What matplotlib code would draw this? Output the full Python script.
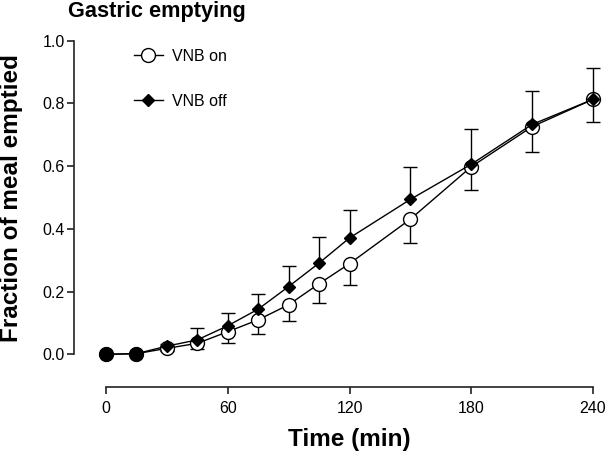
import matplotlib
matplotlib.use("Agg")
import matplotlib.pyplot as plt
from matplotlib.lines import Line2D

plt.rcParams['font.family'] = ['Liberation Sans', 'DejaVu Sans']

# Data
time_min = [0, 15, 30, 45, 60, 75, 90, 105, 120, 150, 180, 210, 240]
vnb_on = [0.0, 0.002, 0.019, 0.035, 0.072, 0.110, 0.158, 0.225, 0.289, 0.431, 0.598, 0.726, 0.813]
vnb_on_err = [0.0, 0.0, 0.008, 0.018, 0.037, 0.046, 0.052, 0.061, 0.067, 0.075, 0.074, 0.080, 0.071]
vnb_off = [0.0, 0.002, 0.026, 0.046, 0.091, 0.144, 0.216, 0.291, 0.371, 0.494, 0.606, 0.733, 0.813]
vnb_off_err = [0.0, 0.0, 0.008, 0.037, 0.040, 0.047, 0.066, 0.083, 0.090, 0.102, 0.112, 0.108, 0.100]
filled_times = [0, 15]
filled_values = [0.0, 0.002]

x_ticks = [0, 60, 120, 180, 240]
y_ticks = [0.0, 0.2, 0.4, 0.6, 0.8, 1.0]
y_ticklabels = ["0.0", "0.2", "0.4", "0.6", "0.8", "1.0"]

W, H = 606, 454
fig = plt.figure(figsize=(W / 100, H / 100), dpi=100)
ax = fig.add_axes([106 / W, 1 - 354.3 / H, 487 / W, 313.6 / H])

lw = 1.0
cap_ms = 9.5

# VNB on: open circles, error bars downward
on_low = [v - e for v, e in zip(vnb_on, vnb_on_err)]
ax.vlines(time_min, on_low, vnb_on, color='black', lw=1.0, zorder=1, clip_on=False)
ax.plot(time_min, on_low, linestyle='none', marker='_', ms=cap_ms, mew=1.0,
        color='black', zorder=1, clip_on=False)
ax.plot(time_min, vnb_on, '-', color='black', lw=lw, marker='o', ms=10, mfc='white',
        mec='black', mew=1.0, clip_on=False, zorder=3)

# VNB off: filled diamonds, error bars upward
off_high = [v + e for v, e in zip(vnb_off, vnb_off_err)]
ax.vlines(time_min, vnb_off, off_high, color='black', lw=1.0, zorder=1, clip_on=False)
ax.plot(time_min, off_high, linestyle='none', marker='_', ms=cap_ms, mew=1.0,
        color='black', zorder=1, clip_on=False)
ax.plot(time_min, vnb_off, '-', color='black', lw=lw, marker='D', ms=6, mfc='black',
        mec='black', mew=1.0, clip_on=False, zorder=4)

ax.plot(filled_times, filled_values, 'o', color='black', ms=9.5, clip_on=False, zorder=6)

ax.set_xlim(0, 240)
ax.set_ylim(0, 1.0)
ax.set_xticks(x_ticks)
ax.set_xticklabels([str(t) for t in x_ticks])
ax.set_yticks(y_ticks)
ax.set_yticklabels(y_ticklabels)

for s in ['top', 'right']:
    ax.spines[s].set_visible(False)
ax.spines['left'].set_position(('outward', 23.3))
ax.spines['bottom'].set_position(('outward', 23.3))
ax.spines['left'].set_bounds(0, 1.0)
ax.spines['bottom'].set_bounds(0, 240)
for s in ['left', 'bottom']:
    ax.spines[s].set_linewidth(1.2)
    ax.spines[s].set_color('#222222')
ax.tick_params(axis='both', direction='out', length=5, width=1.2, color='#222222',
               labelsize=11.5)
ax.tick_params(axis='y', pad=1.5)
ax.tick_params(axis='x', pad=5)

ax.set_xlabel("Time (min)", fontsize=17.5, fontweight='bold', labelpad=9)
fig.text(12 / W, 1 - 198 / H, "Fraction of meal emptied", fontsize=17.5,
         fontweight='bold', rotation=90, ha='center', va='center')
fig.text(68 / W, 1 - 16.5 / H, "Gastric emptying", fontsize=15.7, fontweight='bold',
         ha='left', va='baseline')

handles = [
    Line2D([], [], color='black', lw=1.0, marker='o', ms=10, mfc='white', mec='black', mew=1.0),
    Line2D([], [], color='black', lw=1.0, marker='D', ms=6, mfc='black', mec='black'),
]
fig.legend(handles, ["VNB on", "VNB off"], loc='upper left',
           bbox_to_anchor=(134 / W, 1 - 49 / H), bbox_transform=fig.transFigure,
           frameon=False, fontsize=11.5, handlelength=1.8, handletextpad=0.55,
           labelspacing=1.85, borderpad=0, borderaxespad=0)

fig.savefig("out.png", dpi=100)
